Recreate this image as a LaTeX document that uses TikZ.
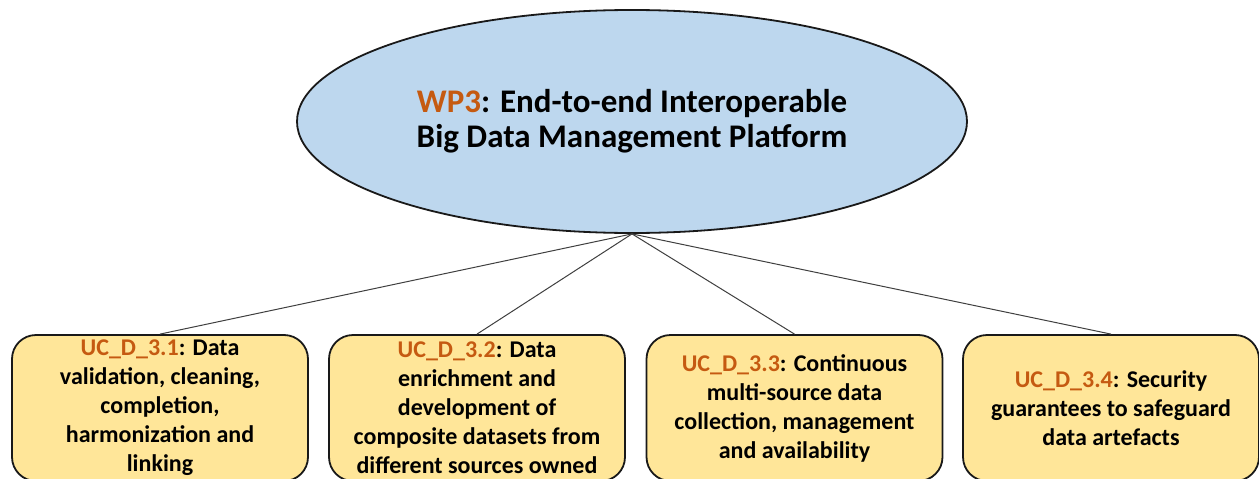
\documentclass[tikz,border=0pt]{standalone}
\usepackage{fontspec}
\setmainfont{Carlito}
\usetikzlibrary{shapes.geometric}
\definecolor{wpblue}{HTML}{BDD7EE}
\definecolor{ucgold}{HTML}{FFE699}
\definecolor{idorange}{HTML}{C55A11}
\definecolor{linkgray}{HTML}{3F3F3F}
\tikzset{
  wpnode/.style={ellipse, draw=black!90, line width=1.8pt, fill=wpblue,
    minimum width=670pt, minimum height=223pt, inner sep=0pt, align=center,
    font=\fontsize{33}{35}\selectfont\bfseries},
  ucbox/.style={rectangle, rounded corners=24pt, draw=black!90, line width=1.8pt,
    fill=ucgold, minimum width=296pt, minimum height=146pt, inner sep=0pt,
    align=center, font=\fontsize{24}{29}\selectfont\bfseries},
  link/.style={draw=linkgray, line width=1pt}
}
\begin{document}
\begin{tikzpicture}[x=1pt, y=-1pt]
  \useasboundingbox (0,0) rectangle (1259,479);
  % top-level work package
  \node[wpnode] (wp) at (632,121.5)
    {{\color{idorange}WP3}: End-to-end Interoperable\\Big Data Management Platform};
  % use-case boxes
  \node[ucbox] (b1) at (160,408)
    {{\color{idorange}UC\_D\_3.1}: Data\\validation, cleaning,\\completion,\\harmonization and\\linking};
  \node[ucbox] (b2) at (477,408)
    {{\color{idorange}UC\_D\_3.2}: Data\\enrichment and\\development of\\composite datasets from\\different sources owned};
  \node[ucbox] (b3) at (794.5,408)
    {{\color{idorange}UC\_D\_3.3}: Continuous\\multi-source data\\collection, management\\and availability};
  \node[ucbox] (b4) at (1111,408)
    {{\color{idorange}UC\_D\_3.4}: Security\\guarantees to safeguard\\data artefacts};
  % connectors
  \foreach \b in {b1,b2,b3,b4}
    \draw[link] (wp.south) -- (\b.north);
\end{tikzpicture}
\end{document}
